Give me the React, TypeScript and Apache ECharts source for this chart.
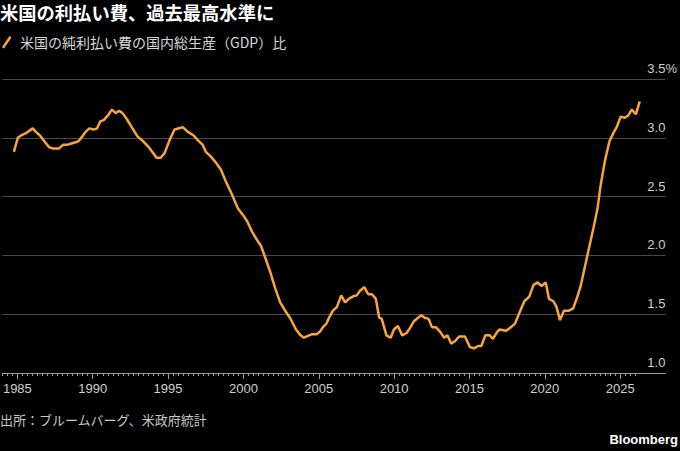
import React, { useEffect, useRef } from "react";
import * as echarts from "echarts";

const years = [
  1984.77, 1985.03, 1985.25, 1985.58, 1986.02, 1986.23, 1986.5, 1986.79, 1987.11, 1987.33,
  1987.77, 1988.03, 1988.32, 1988.53, 1988.82, 1989.04, 1989.3, 1989.52, 1989.78, 1990.07,
  1990.29, 1990.5, 1990.73, 1991.01, 1991.27, 1991.54, 1991.75, 1991.98, 1992.26, 1992.59,
  1992.98, 1993.35, 1993.72, 1994.01, 1994.23, 1994.51, 1994.77, 1995.1, 1995.43, 1995.98,
  1996.31, 1996.7, 1996.97, 1997.3, 1997.51, 1997.84, 1998.17, 1998.5, 1998.83, 1999.27,
  1999.63, 1999.99, 2000.25, 2000.58, 2000.91, 2001.17, 2001.45, 2001.78, 2002.11, 2002.44,
  2002.77, 2003.09, 2003.49, 2003.8, 2004.01, 2004.36, 2004.56, 2004.85, 2005.07, 2005.28,
  2005.51, 2005.72, 2005.94, 2006.2, 2006.49, 2006.75, 2006.99, 2007.25, 2007.52, 2007.74,
  2008.02, 2008.28, 2008.53, 2008.79, 2009.01, 2009.18, 2009.49, 2009.77, 2009.99, 2010.25,
  2010.54, 2010.83, 2011.09, 2011.31, 2011.59, 2011.81, 2012.03, 2012.29, 2012.51, 2012.77,
  2013.06, 2013.32, 2013.54, 2013.78, 2014.04, 2014.31, 2014.7, 2015.03, 2015.31, 2015.57,
  2015.79, 2016.05, 2016.34, 2016.56, 2016.84, 2017.0, 2017.43, 2017.76, 2018.02, 2018.31,
  2018.64, 2018.97, 2019.25, 2019.52, 2019.78, 2020.06, 2020.28, 2020.57, 2020.78, 2021.01,
  2021.27, 2021.6, 2021.88, 2022.14, 2022.36, 2022.62, 2022.91, 2023.24, 2023.5, 2023.72,
  2024.0, 2024.29, 2024.55, 2024.77, 2025.03, 2025.31, 2025.54, 2025.77, 2026.04, 2026.3,
];

const interestToGdp = [
  2.88, 3.0, 3.02, 3.04, 3.08, 3.05, 3.02, 2.97, 2.92, 2.91,
  2.91, 2.94, 2.94, 2.95, 2.96, 2.97, 3.01, 3.05, 3.08, 3.07,
  3.08, 3.14, 3.15, 3.19, 3.24, 3.21, 3.23, 3.21, 3.16, 3.09,
  3.01, 2.97, 2.92, 2.87, 2.83, 2.83, 2.87, 2.98, 3.07, 3.09,
  3.05, 3.02, 2.98, 2.94, 2.88, 2.84, 2.79, 2.73, 2.63, 2.51,
  2.4, 2.34, 2.29, 2.2, 2.13, 2.08, 1.98, 1.86, 1.72, 1.6,
  1.53, 1.47, 1.37, 1.32, 1.3, 1.32, 1.33, 1.33, 1.35, 1.39,
  1.42, 1.48, 1.53, 1.56, 1.66, 1.6, 1.63, 1.65, 1.66, 1.7,
  1.73, 1.67, 1.67, 1.63, 1.47, 1.46, 1.32, 1.3, 1.37, 1.4,
  1.32, 1.34, 1.39, 1.44, 1.47, 1.49, 1.47, 1.46, 1.39, 1.39,
  1.35, 1.3, 1.32, 1.25, 1.27, 1.31, 1.31, 1.22, 1.21, 1.23,
  1.23, 1.32, 1.32, 1.29, 1.35, 1.37, 1.36, 1.39, 1.42, 1.51,
  1.61, 1.65, 1.75, 1.77, 1.74, 1.77, 1.63, 1.61, 1.56, 1.45,
  1.53, 1.53, 1.55, 1.64, 1.73, 1.88, 2.05, 2.24, 2.4, 2.61,
  2.81, 2.97, 3.04, 3.09, 3.18, 3.17, 3.19, 3.24, 3.2, 3.31,
];

const majorTickYears = [1985, 1990, 1995, 2000, 2005, 2010, 2015, 2020, 2025];
const yTicks = [1.0, 1.5, 2.0, 2.5, 3.0, 3.5];

const titleText = "米国の利払い費、過去最高水準に";
const seriesName = "米国の純利払い費の国内総生産（GDP）比";
const sourceText = "出所：ブルームバーグ、米政府統計";

const FONT = "'Liberation Sans', 'Noto Sans CJK JP', sans-serif";
const CJK = "'Noto Sans CJK JP', 'Liberation Sans', sans-serif";

export default function App() {
  const ref = useRef<HTMLDivElement>(null);
  useEffect(() => {
    if (!ref.current) return;
    const chart = echarts.init(ref.current, undefined, { renderer: "svg" });
    const minorTicks: number[] = [];
    for (let i = 0; i <= 126; i++) minorTicks.push(1984 + i / 3);
    const data = years.map((y, i) => [y, interestToGdp[i]]);
    chart.setOption({
      animation: false,
      backgroundColor: "#000000",
      grid: { left: 0, right: 10, top: 79, bottom: 78, containLabel: false },
      xAxis: [
        {
          type: "value",
          position: "bottom",
          min: 1984,
          max: 2028,
          axisLine: { show: true, lineStyle: { color: "#9a9a9a", width: 1 } },
          axisTick: {
            show: true,
            length: 6,
            customValues: majorTickYears,
            lineStyle: { color: "#9a9a9a", width: 1 },
          },
          axisLabel: {
            show: true,
            customValues: majorTickYears,
            color: "#d0d0d0",
            fontSize: 13,
            fontFamily: FONT,
            margin: 9,
            formatter: (v: number) => String(v),
          },
          splitLine: { show: false },
        },
        {
          type: "value",
          position: "bottom",
          min: 1984,
          max: 2028,
          axisLine: { show: false },
          axisTick: {
            show: true,
            length: 3,
            customValues: minorTicks,
            lineStyle: { color: "#9a9a9a", width: 1 },
          },
          axisLabel: { show: false },
          splitLine: { show: false },
        },
      ],
      yAxis: {
        type: "value",
        position: "right",
        min: 1,
        max: 3.5,
        interval: 0.5,
        axisLine: { show: false },
        axisTick: { show: false },
        splitLine: { show: true, lineStyle: { color: "#4a4a4a", width: 1 } },
        axisLabel: {
          inside: true,
          align: "left",
          verticalAlign: "bottom",
          margin: 18,
          padding: [0, 0, 4, 0],
          color: "#d0d0d0",
          fontSize: 13,
          fontFamily: FONT,
          formatter: (v: number) =>
            yTicks.includes(v) ? (v === 3.5 ? "3.5%" : v.toFixed(1)) : "",
        },
      },
      series: [
        {
          name: seriesName,
          type: "line",
          xAxisIndex: 0,
          data,
          showSymbol: false,
          symbol: "none",
          lineStyle: { color: "#f7a53c", width: 2.5 },
          z: 5,
        },
      ],
      graphic: [
        {
          type: "text",
          left: 0,
          top: 3,
          style: {
            text: titleText,
            fill: "#ffffff",
            font: `bold 18.3px ${CJK}`,
          },
        },
        {
          type: "line",
          shape: { x1: 3.5, y1: 47, x2: 10, y2: 37.5 },
          style: { stroke: "#f7a53c", lineWidth: 2.5, lineCap: "round" },
        },
        {
          type: "text",
          left: 20,
          top: 35,
          style: {
            text: seriesName,
            fill: "#d8d8d8",
            font: `14px ${CJK}`,
          },
        },
        {
          type: "text",
          left: 0,
          top: 413,
          style: {
            text: sourceText,
            fill: "#c8c8c8",
            font: `13px ${CJK}`,
          },
        },
        {
          type: "text",
          right: 2,
          top: 433,
          style: {
            text: "Bloomberg",
            fill: "#ffffff",
            font: `bold 13px ${FONT}`,
          },
        },
      ],
    });
    return () => chart.dispose();
  }, []);
  return (
    <div
      ref={ref}
      style={{ position: "fixed", left: 0, top: 0, width: 680, height: 451 }}
    />
  );
}
